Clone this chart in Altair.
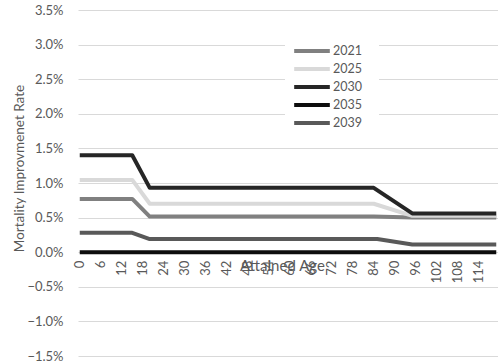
import altair as alt
import pandas as pd

# Breakpoints of each projection-year series (attained age -> improvement rate, %)
years = ["2021", "2025", "2030", "2035", "2039"]
ages_2021 = [0, 15, 20, 84, 95, 119]
rates_2021 = [0.77, 0.77, 0.515, 0.515, 0.50, 0.50]
ages_2025 = [0, 15, 20, 84, 95, 119]
rates_2025 = [1.045, 1.045, 0.70, 0.70, 0.525, 0.525]
ages_2030 = [0, 15, 20, 84, 95, 119]
rates_2030 = [1.40, 1.40, 0.93, 0.93, 0.56, 0.56]
ages_2035 = [0, 119]
rates_2035 = [0.0, 0.0]
ages_2039 = [0, 15, 20, 85, 95, 119]
rates_2039 = [0.28, 0.28, 0.19, 0.19, 0.11, 0.11]

colors = ["#808080", "#d9d9d9", "#262626", "#0d0d0d", "#595959"]
age_ticks = list(range(0, 115, 6))

series = {
    "2021": (ages_2021, rates_2021),
    "2025": (ages_2025, rates_2025),
    "2030": (ages_2030, rates_2030),
    "2035": (ages_2035, rates_2035),
    "2039": (ages_2039, rates_2039),
}
rows = []
for i, yr in enumerate(years):
    a, r = series[yr]
    for age, rate in zip(a, r):
        rows.append({"Year": yr, "order": i, "Age": age, "Rate": rate / 100})
df = pd.DataFrame(rows)

FONT = "Lato"
TEXT = "#595959"
W, H = 420, 346

chart = (
    alt.Chart(df)
    .mark_line(strokeWidth=4, strokeCap="butt", strokeJoin="round")
    .encode(
        x=alt.X(
            "Age:Q",
            scale=alt.Scale(domain=[-0.5, 119.5], nice=False, zero=False),
            axis=alt.Axis(
                title="Attained Age",
                values=age_ticks,
                labelAngle=270,
                labelAlign="right",
                labelBaseline="middle",
                labelPadding=8,
                labelOverlap=False,
                labelFlush=False,
                ticks=False,
                domain=False,
                grid=False,
                offset=-H * 0.3,
                titleX=204,
                titleY=13,
                titleFontSize=15,
                titleBaseline="middle",
                titleAnchor="start",
                titleAlign="center",
            ),
        ),
        y=alt.Y(
            "Rate:Q",
            scale=alt.Scale(domain=[-0.015, 0.035], nice=False),
            axis=alt.Axis(
                title="Mortality Improvmenet Rate",
                format=".1%",
                values=[-0.015 + 0.005 * k for k in range(11)],
                ticks=False,
                domain=False,
                grid=True,
                gridColor="#d9d9d9",
                gridWidth=1,
                labelPadding=15,
                titleX=-59,
                titleY=158,
                titleFontSize=13.5,
                titleAngle=270,
                titleBaseline="middle",
                titleAlign="center",
            ),
        ),
        color=alt.Color(
            "Year:N",
            scale=alt.Scale(domain=years, range=colors),
            legend=alt.Legend(
                title=None,
                orient="none",
                legendX=207,
                legendY=14,
                symbolType="M-2.35,0H2.35",
                symbolStrokeWidth=4,
                symbolSize=230,
                labelFontSize=12.5,
                labelFont=FONT,
                labelColor=TEXT,
                rowPadding=-1,
                fillColor="white",
                padding=17,
                labelOffset=11,
            ),
        ),
        order="order:Q",
    )
    .properties(
        width=W,
        height=H,
        background="white",
        autosize=alt.AutoSizeParams(type="none"),
        padding={"left": 78, "top": 10, "right": 0, "bottom": 6},
    )
    .configure_view(stroke=None)
    .configure_axis(
        labelFont=FONT,
        labelFontSize=13,
        labelColor=TEXT,
        titleFont=FONT,
        titleFontWeight="normal",
        titleColor=TEXT,
    )
)

chart.save("out.html", embed_options={"renderer": "svg", "actions": False})
